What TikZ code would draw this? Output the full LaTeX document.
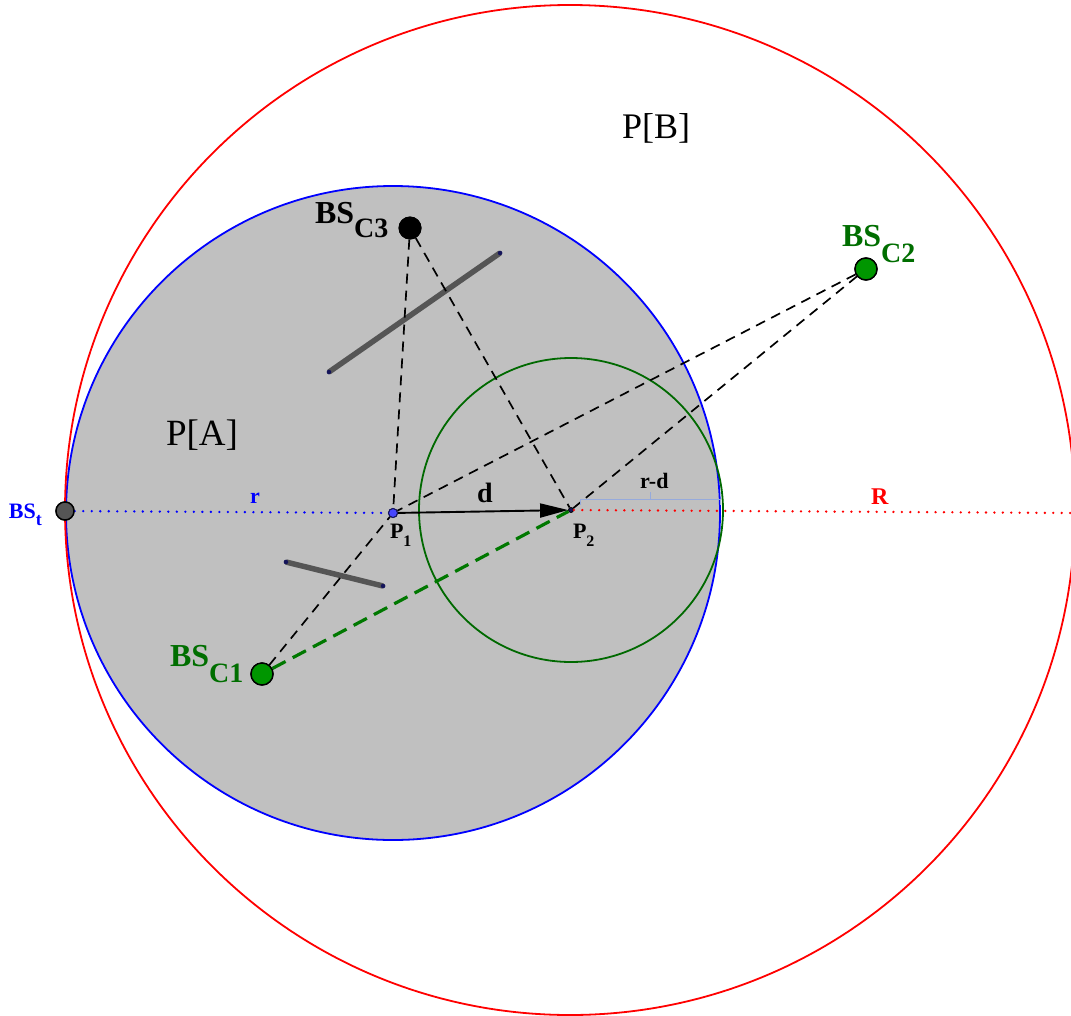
\documentclass[tikz,border=0pt]{standalone}
\usepackage{fontspec}
\setmainfont{Liberation Serif}
\usetikzlibrary{arrows.meta}
\definecolor{areagray}{RGB}{192,192,192}
\definecolor{circgreen}{RGB}{0,105,0}
\definecolor{ptgreen}{RGB}{0,150,0}
\definecolor{txtgreen}{RGB}{0,110,0}
\definecolor{linegreen}{RGB}{0,120,0}
\definecolor{wallgray}{RGB}{85,85,85}
\definecolor{bracecol}{RGB}{150,170,220}
\definecolor{ptblue}{RGB}{70,70,255}
\definecolor{navy}{RGB}{20,20,90}
\begin{document}
\begin{tikzpicture}[x=1pt,y=-1pt,
  dashline/.style={black, line width=1.7pt, dash pattern=on 10pt off 7pt},
  greendash/.style={linegreen, line width=3.2pt, dash pattern=on 15pt off 8pt},
  wallline/.style={wallgray, line width=5.5pt},
  wallend/.style={circle, fill=navy, inner sep=0pt, minimum size=4.5pt},
  bsgreen/.style={circle, draw=black, line width=1.4pt, fill=ptgreen, minimum size=22pt, inner sep=0pt},
  bsblack/.style={circle, fill=black, minimum size=23pt, inner sep=0pt},
  bsgray/.style={circle, draw=black, line width=1.4pt, fill=wallgray, minimum size=18pt, inner sep=0pt},
  lbl/.style={anchor=base west, inner sep=0pt, outer sep=0pt},
  bluedots/.style={blue, line width=2.6pt, line cap=round, dash pattern=on 0.01pt off 8.5pt},
  reddots/.style={red, line width=2.6pt, line cap=round, dash pattern=on 0.01pt off 8.4pt},
]
\useasboundingbox (0,0) rectangle (1071,1015);
\fill[white] (0,0) rectangle (1071,1015);

% reference points
\coordinate (P1c) at (393,513);
\coordinate (P2c) at (571,510);

% shaded region P[A] and its boundary
\fill[areagray] (P1c) circle (327pt);
\draw[blue, line width=1.8pt] (P1c) circle (327pt);
\begin{scope}
  \clip (0,0) rectangle (1071,1015);
  \draw[red, line width=1.8pt] (570,510) circle (505pt);
\end{scope}
\draw[circgreen, line width=1.8pt] (P2c) circle (152pt);

% walls
\node[wallend] (wa1) at (329,372) {};
\node[wallend] (wa2) at (500,253) {};
\node[wallend] (wb1) at (286,562) {};
\node[wallend] (wb2) at (383,586) {};
\draw[wallline] (wa1.center) -- (wa2.center);
\draw[wallline] (wb1.center) -- (wb2.center);
\node[wallend] at (wa1) {};
\node[wallend] at (wa2) {};
\node[wallend] at (wb1) {};
\node[wallend] at (wb2) {};

% base stations
\node[bsblack] (C3) at (410,228) {};
\node[bsgreen] (C2) at (866,269) {};
\node[bsgreen] (C1) at (262,674) {};
\node[bsgray] (BSt) at (65,511) {};
\node[circle, draw=navy, line width=1pt, fill=ptblue, minimum size=9pt, inner sep=0pt] (P1) at (P1c) {};
\node[circle, draw=black, line width=0.8pt, fill=navy, minimum size=5pt, inner sep=0pt] (P2) at (P2c) {};
\coordinate (Rend) at (1071,513);

% dotted radii
\draw[bluedots] (BSt) -- (P1);
\draw[reddots] (P2) -- (Rend);

% dashed links
\draw[dashline] (C3) -- (P1);
\draw[dashline] (C3) -- (P2);
\draw[dashline] (C2) -- (P1);
\draw[dashline] (C2) -- (P2);
\draw[dashline] (C1) -- (P1);
\draw[greendash] (C1) -- (P2);

% displacement arrow
\draw[black, line width=1.9pt, -{Triangle[length=28pt,width=14pt]}] (P1) -- (P2);

% redraw points on top
\node[bsblack] at (C3) {};
\node[bsgreen] at (C2) {};
\node[bsgreen] at (C1) {};
\node[bsgray] at (BSt) {};
\node[circle, draw=navy, line width=1pt, fill=ptblue, minimum size=9pt, inner sep=0pt] at (P1c) {};

% r-d bracket
\coordinate (bl) at (580,505);
\coordinate (bltop) at (580,499);
\coordinate (brtop) at (720,499);
\coordinate (br) at (720,505);
\coordinate (bmid) at (650,499);
\coordinate (btip) at (650,492);
\draw[bracecol, line width=1pt] (bl) -- (bltop) -- (brtop) -- (br);
\draw[bracecol, line width=1pt] (bmid) -- (btip);

% labels
\node[lbl] (lPB) at (622,138) {\fontsize{36}{36}\selectfont P[B]};
\node[lbl] (lPA) at (166,445) {\fontsize{37}{37}\selectfont P[A]};
\node[lbl] (lC3) at (315,223) {\bfseries\fontsize{32}{32}\selectfont BS\raisebox{-14pt}{\fontsize{28}{28}\selectfont C3}};
\node[lbl, text=txtgreen] (lC2) at (842,246) {\bfseries\fontsize{32}{32}\selectfont BS\raisebox{-16pt}{\fontsize{28}{28}\selectfont C2}};
\node[lbl, text=txtgreen] (lC1) at (170,666) {\bfseries\fontsize{32}{32}\selectfont BS\raisebox{-16pt}{\fontsize{28}{28}\selectfont C1}};
\node[lbl, text=blue] (lBSt) at (9,518) {\bfseries\fontsize{22}{22}\selectfont BS\raisebox{-7pt}{\fontsize{18}{18}\selectfont t}};
\node[lbl, text=blue] (lr) at (250,503) {\bfseries\fontsize{22}{22}\selectfont r};
\node[lbl, text=red] (lR) at (871,504) {\bfseries\fontsize{24}{24}\selectfont R};
\node[lbl] (ld) at (477,502) {\bfseries\fontsize{28}{28}\selectfont d};
\node[lbl] (lrd) at (640,488) {\bfseries\fontsize{22}{22}\selectfont r-d};
\node[lbl] (lP1) at (390,538) {\bfseries\fontsize{22}{22}\selectfont P\raisebox{-8pt}{\fontsize{16}{16}\selectfont 1}};
\node[lbl] (lP2) at (573,538) {\bfseries\fontsize{22}{22}\selectfont P\raisebox{-8pt}{\fontsize{16}{16}\selectfont 2}};
\end{tikzpicture}
\end{document}
